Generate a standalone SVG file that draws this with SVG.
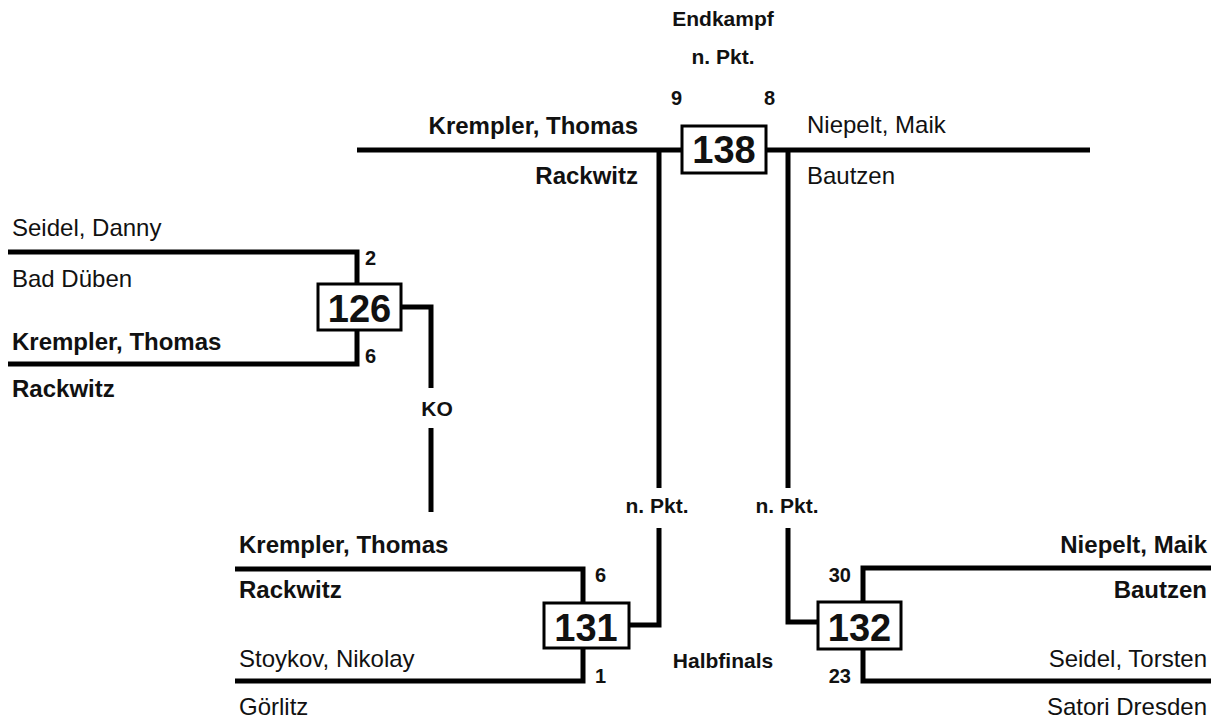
<svg xmlns="http://www.w3.org/2000/svg" width="1211" height="723" viewBox="0 0 1211 723">
<style>
.ln{fill:none;stroke:#000;stroke-width:5;stroke-linecap:butt;stroke-linejoin:miter}
.box{fill:#fff;stroke:#000;stroke-width:3}
.num{font-family:"Liberation Sans",Arial,sans-serif;font-weight:bold;font-size:38px;fill:#111;text-anchor:middle}
.nb{font-family:"Liberation Sans",Arial,sans-serif;font-weight:bold;font-size:24px;fill:#111}
.nr{font-family:"Liberation Sans",Arial,sans-serif;font-size:24px;fill:#111}
.lb{font-family:"Liberation Sans",Arial,sans-serif;font-weight:bold;font-size:21px;fill:#111}
.dg{font-family:"Liberation Sans",Arial,sans-serif;font-weight:bold;font-size:20px;fill:#111}
.m{text-anchor:middle}
.e{text-anchor:end}
</style>
<rect width="1211" height="723" fill="#fff"/>
<g id="connectors">
<path class="ln" d="M357,150 H1090"/>
<path class="ln" d="M659,150 V488"/>
<path class="ln" d="M659,528 V625 H628"/>
<path class="ln" d="M788,150 V488"/>
<path class="ln" d="M788,528 V622 H818"/>
<path class="ln" d="M8,252 H357 V364 H8"/>
<path class="ln" d="M401,307 H431 V388"/>
<path class="ln" d="M431,428 V512"/>
<path class="ln" d="M235,569 H583 V681 H235"/>
<path class="ln" d="M1211,568 H863 V681 H1211"/>
</g>
<g id="node-138">
<rect class="box" x="682" y="126" width="84" height="47"/>
<text class="num" x="724" y="163">138</text>
</g>
<g id="node-126">
<rect class="box" x="318" y="284" width="83" height="46"/>
<text class="num" x="359.5" y="322">126</text>
</g>
<g id="node-131">
<rect class="box" x="544" y="603" width="85" height="45"/>
<text class="num" x="586" y="641">131</text>
</g>
<g id="node-132">
<rect class="box" x="818" y="602" width="83" height="47"/>
<text class="num" x="859.5" y="641">132</text>
</g>
<g id="labels">
<text class="lb m" x="723" y="26">Endkampf</text>
<text class="lb m" x="723" y="64">n. Pkt.</text>
<text class="dg" x="671" y="105">9</text>
<text class="dg" x="764" y="105">8</text>
<text class="nb e" x="638" y="134">Krempler, Thomas</text>
<text class="nb e" x="638" y="184">Rackwitz</text>
<text class="nr" x="807" y="133">Niepelt, Maik</text>
<text class="nr" x="807" y="184">Bautzen</text>
<text class="nr" x="12" y="236">Seidel, Danny</text>
<text class="nr" x="12" y="287">Bad Düben</text>
<text class="nb" x="12" y="350">Krempler, Thomas</text>
<text class="nb" x="12" y="397">Rackwitz</text>
<text class="dg" x="365" y="265">2</text>
<text class="dg" x="365" y="363">6</text>
<text class="lb m" x="437" y="416">KO</text>
<text class="lb m" x="657" y="513">n. Pkt.</text>
<text class="lb m" x="787" y="513">n. Pkt.</text>
<text class="nb" x="239" y="553">Krempler, Thomas</text>
<text class="nb" x="239" y="598">Rackwitz</text>
<text class="nr" x="239" y="667">Stoykov, Nikolay</text>
<text class="nr" x="239" y="715">Görlitz</text>
<text class="dg" x="595" y="582">6</text>
<text class="dg" x="595" y="683">1</text>
<text class="lb m" x="723" y="668">Halbfinals</text>
<text class="dg e" x="851" y="582">30</text>
<text class="dg e" x="851" y="683">23</text>
<text class="nb e" x="1207" y="553">Niepelt, Maik</text>
<text class="nb e" x="1207" y="598">Bautzen</text>
<text class="nr e" x="1207" y="667">Seidel, Torsten</text>
<text class="nr e" x="1207" y="715">Satori Dresden</text>
</g>
</svg>
